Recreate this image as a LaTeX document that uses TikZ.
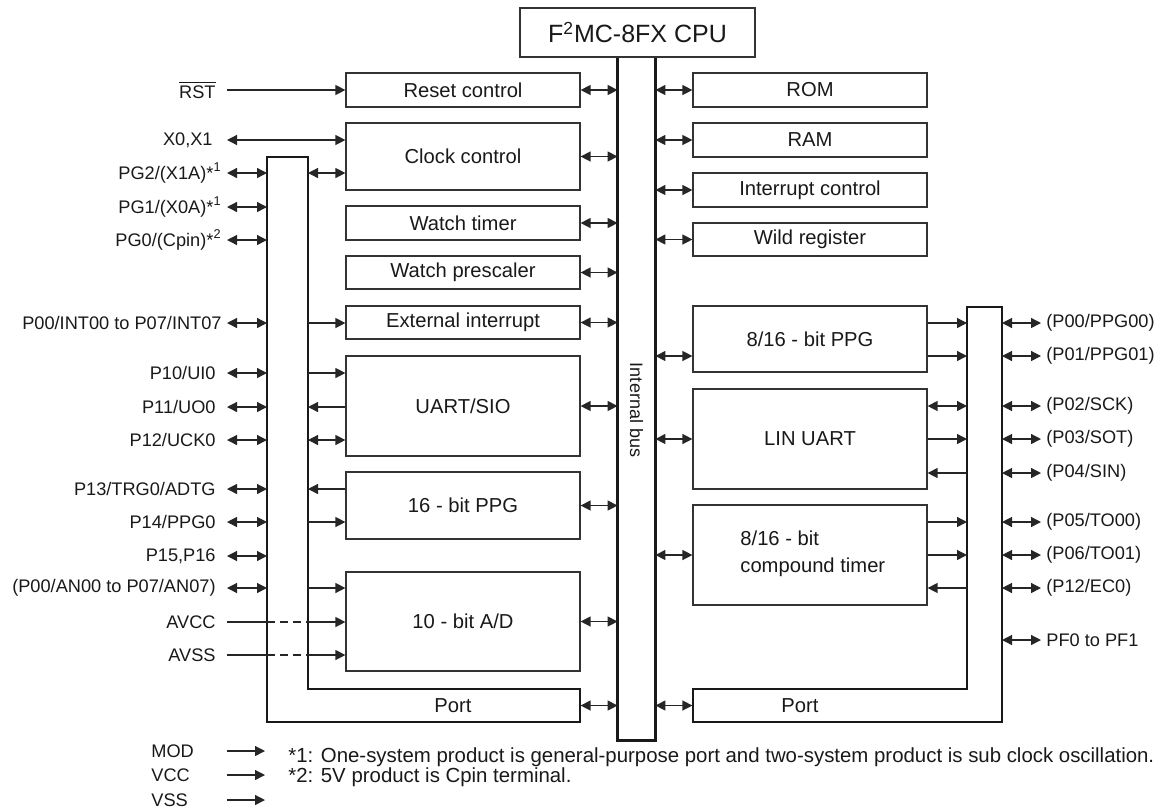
\documentclass[tikz,border=0pt]{standalone}
\usepackage{fontspec}
\setmainfont{Liberation Sans}
\usetikzlibrary{arrows.meta}

\begin{document}
\begin{tikzpicture}[x=0.5pt,y=-0.5pt,
  blk/.style={draw=black!80,line width=0.6pt,minimum width=117pt,inner sep=0pt,text=black!90,font=\fontsize{10.1}{12}\selectfont},
  pin/.style={inner xsep=5.5pt,inner ysep=0pt,text=black!90,font=\fontsize{9.1}{11}\selectfont},
  note/.style={inner sep=0pt,text=black!90,font=\fontsize{10.2}{12}\selectfont},
  lnk/.style={line width=0.65pt,draw=black!85,>={Triangle[length=5pt,width=5pt]}},
  frm/.style={line width=1.4pt,draw=black!90,line join=miter}]
\useasboundingbox (0,0) rectangle (1160,811);
\node[inner sep=0pt,minimum width=18.5pt,minimum height=341.5pt] (bus) at (636.5,398.5) {};
\draw[frm] (bus.north west) -- (bus.south west) -- (bus.south east) -- (bus.north east);
\node[blk,fill=white,minimum width=117.5pt,minimum height=24.5pt,font=\fontsize{12.5}{14}\selectfont] (cpu) at (637.5,32.5) {F\textsuperscript{2}MC-8FX CPU};
\node[rotate=-90,inner sep=0pt,text=black!90,font=\fontsize{9}{11}\selectfont] (buslbl) at (636.5,410) {Internal bus};
\coordinate (lfo) at (267,157);
\coordinate (lfi) at (308,157);
\coordinate (rfi) at (967,307);
\coordinate (rfo) at (1002,307);
\draw[frm] (267,157) -- (308,157) -- (308,689) -- (580,689) -- (580,722) -- (267,722) -- cycle;
\draw[frm] (967,307) -- (1002,307) -- (1002,722) -- (693,722) -- (693,689) -- (967,689) -- cycle;
\node[blk,minimum height=17pt] (reset) at (463,90) {Reset control};
\node[blk,minimum height=33.5pt] (clock) at (463,156.5) {Clock control};
\node[blk,minimum height=17pt] (wtimer) at (463,223) {Watch timer};
\node[blk,minimum height=16.5pt] (wpresc) at (463,272.5) {Watch prescaler};
\node[blk,minimum height=16.5pt] (extint) at (463,322.5) {External interrupt};
\node[blk,minimum height=50pt] (uart) at (463,406) {UART/SIO};
\node[blk,minimum height=33.5pt] (ppg16) at (463,505.5) {16 - bit PPG};
\node[blk,minimum height=49.5pt] (adc) at (463,621.5) {10 - bit A/D};
\node[blk,draw=none,minimum width=127pt,minimum height=16.5pt] (lport) at (453,705.5) {Port};
\node[blk,minimum height=17pt] (rom) at (810,90) {ROM};
\node[blk,minimum height=17pt] (ram) at (810,140) {RAM};
\node[blk,minimum height=17pt] (intc) at (810,190) {Interrupt control};
\node[blk,minimum height=16.5pt] (wild) at (810,239.5) {Wild register};
\node[blk,minimum height=33pt] (ppg816) at (810,339) {8/16 - bit PPG};
\node[blk,minimum height=50pt] (lin) at (810,439) {LIN UART};
\node[blk,minimum height=50pt] (ctimer) at (810,555) {};
\node[note,anchor=west,align=left,font=\fontsize{10.1}{13.5}\selectfont] (ctimerlbl) at (740,553.5) {8/16 - bit\\compound timer};
\node[blk,draw=none,minimum width=107pt,minimum height=16.5pt] (rport) at (800,705.5) {Port};
\node[pin,anchor=east] (rst) at (227,90) {$\overline{\mbox{RST}}$};
\node[pin,anchor=east,inner xsep=7pt] (xin) at (227,140) {X0,X1};
\node[pin,anchor=east,inner xsep=2.5pt] (pg2) at (227,173) {PG2/(X1A)*\textsuperscript{1}};
\node[pin,anchor=east,inner xsep=2.5pt] (pg1) at (227,207) {PG1/(X0A)*\textsuperscript{1}};
\node[pin,anchor=east,inner xsep=2.5pt] (pg0) at (227,240) {PG0/(Cpin)*\textsuperscript{2}};
\node[pin,anchor=east,inner xsep=2.5pt] (int) at (227,323) {P00/INT00 to P07/INT07};
\node[pin,anchor=east] (p10) at (227,373) {P10/UI0};
\node[pin,anchor=east] (p11) at (227,407) {P11/UO0};
\node[pin,anchor=east] (p12) at (227,440) {P12/UCK0};
\node[pin,anchor=east] (p13) at (227,489) {P13/TRG0/ADTG};
\node[pin,anchor=east] (p14) at (227,522) {P14/PPG0};
\node[pin,anchor=east] (p15) at (227,556) {P15,P16};
\node[pin,anchor=east] (an) at (227,588) {(P00/AN00 to P07/AN07)};
\node[pin,anchor=east] (avcc) at (227,622) {AVCC};
\node[pin,anchor=east] (avss) at (227,655) {AVSS};
\node[pin,anchor=west,inner xsep=2.5pt] (p00r) at (1041,323) {(P00/PPG00)};
\node[pin,anchor=west,inner xsep=2.5pt] (p01r) at (1041,356) {(P01/PPG01)};
\node[pin,anchor=west,inner xsep=2.5pt] (p02r) at (1041,406) {(P02/SCK)};
\node[pin,anchor=west,inner xsep=2.5pt] (p03r) at (1041,439) {(P03/SOT)};
\node[pin,anchor=west,inner xsep=2.5pt] (p04r) at (1041,473) {(P04/SIN)};
\node[pin,anchor=west,inner xsep=2.5pt] (p05r) at (1041,522) {(P05/TO00)};
\node[pin,anchor=west,inner xsep=2.5pt] (p06r) at (1041,555) {(P06/TO01)};
\node[pin,anchor=west,inner xsep=2.5pt] (p12r) at (1041,588) {(P12/EC0)};
\node[pin,anchor=west,inner xsep=2.5pt] (pfr) at (1041,640) {PF0 to PF1};
\node[pin,anchor=west,inner xsep=0pt,text width=37.5pt,align=left] (mod) at (151,751) {MOD};
\node[pin,anchor=west,inner xsep=0pt,text width=37.5pt,align=left] (vcc) at (151,775) {VCC};
\node[pin,anchor=west,inner xsep=0pt,text width=37.5pt,align=left] (vss) at (151,800) {VSS};
\coordinate (modend) at (265,751);
\coordinate (vccend) at (265,775);
\coordinate (vssend) at (265,800);
\node[note,anchor=west] (fn1) at (288,757) {*1: One-system product is general-purpose port and two-system product is sub clock oscillation.};
\node[note,anchor=west] (fn2) at (288,777) {*2: 5V product is Cpin terminal.};
\draw[lnk,<->] (reset.east) -- (reset.east -| bus.west);
\draw[lnk,<->] (clock.east) -- (clock.east -| bus.west);
\draw[lnk,<->] (wtimer.east) -- (wtimer.east -| bus.west);
\draw[lnk,<->] (wpresc.east) -- (wpresc.east -| bus.west);
\draw[lnk,<->] (extint.east) -- (extint.east -| bus.west);
\draw[lnk,<->] (uart.east) -- (uart.east -| bus.west);
\draw[lnk,<->] (ppg16.east) -- (ppg16.east -| bus.west);
\draw[lnk,<->] (adc.east) -- (adc.east -| bus.west);
\draw[lnk,<->] (lport.east) -- (lport.east -| bus.west);
\draw[lnk,<->] (rom.west) -- (rom.west -| bus.east);
\draw[lnk,<->] (ram.west) -- (ram.west -| bus.east);
\draw[lnk,<->] (intc.west) -- (intc.west -| bus.east);
\draw[lnk,<->] (wild.west) -- (wild.west -| bus.east);
\draw[lnk,<->] (p01r -| ppg816.west) -- (p01r -| bus.east);
\draw[lnk,<->] (lin.west) -- (lin.west -| bus.east);
\draw[lnk,<->] (ctimer.west) -- (ctimer.west -| bus.east);
\draw[lnk,<->] (rport.west) -- (rport.west -| bus.east);
\draw[lnk,->] (rst.east) -- (rst -| reset.west);
\draw[lnk,<->] (xin.east) -- (xin -| clock.west);
\draw[lnk,<->] (pg2.east) -- (pg2 -| lfo);
\draw[lnk,<->] (pg1.east) -- (pg1 -| lfo);
\draw[lnk,<->] (pg0.east) -- (pg0 -| lfo);
\draw[lnk,<->] (int.east) -- (int -| lfo);
\draw[lnk,<->] (p10.east) -- (p10 -| lfo);
\draw[lnk,<->] (p11.east) -- (p11 -| lfo);
\draw[lnk,<->] (p12.east) -- (p12 -| lfo);
\draw[lnk,<->] (p13.east) -- (p13 -| lfo);
\draw[lnk,<->] (p14.east) -- (p14 -| lfo);
\draw[lnk,<->] (p15.east) -- (p15 -| lfo);
\draw[lnk,<->] (an.east) -- (an -| lfo);
\draw[lnk] (avcc.east) -- (avcc -| lfo);
\draw[lnk,dash pattern=on 4pt off 2.5pt] (avcc -| lfo) -- (avcc -| lfi);
\draw[lnk,->] (avcc -| lfi) -- (avcc -| adc.west);
\draw[lnk] (avss.east) -- (avss -| lfo);
\draw[lnk,dash pattern=on 4pt off 2.5pt] (avss -| lfo) -- (avss -| lfi);
\draw[lnk,->] (avss -| lfi) -- (avss -| adc.west);
\draw[lnk,<->] (pg2 -| lfi) -- (pg2 -| clock.west);
\draw[lnk,->] (int -| lfi) -- (int -| extint.west);
\draw[lnk,->] (p10 -| lfi) -- (p10 -| uart.west);
\draw[lnk,->] (p11 -| uart.west) -- (p11 -| lfi);
\draw[lnk,<->] (p12 -| lfi) -- (p12 -| uart.west);
\draw[lnk,->] (p13 -| ppg16.west) -- (p13 -| lfi);
\draw[lnk,->] (p14 -| lfi) -- (p14 -| ppg16.west);
\draw[lnk,->] (an -| lfi) -- (an -| adc.west);
\draw[lnk,->] (p00r -| ppg816.east) -- (p00r -| rfi);
\draw[lnk,->] (p01r -| ppg816.east) -- (p01r -| rfi);
\draw[lnk,<->] (p02r -| lin.east) -- (p02r -| rfi);
\draw[lnk,->] (p03r -| lin.east) -- (p03r -| rfi);
\draw[lnk,->] (p04r -| rfi) -- (p04r -| lin.east);
\draw[lnk,->] (p05r -| ctimer.east) -- (p05r -| rfi);
\draw[lnk,->] (p06r -| ctimer.east) -- (p06r -| rfi);
\draw[lnk,->] (p12r -| rfi) -- (p12r -| ctimer.east);
\draw[lnk,<->] (p00r -| rfo) -- (p00r.west);
\draw[lnk,<->] (p01r -| rfo) -- (p01r.west);
\draw[lnk,<->] (p02r -| rfo) -- (p02r.west);
\draw[lnk,<->] (p03r -| rfo) -- (p03r.west);
\draw[lnk,<->] (p04r -| rfo) -- (p04r.west);
\draw[lnk,<->] (p05r -| rfo) -- (p05r.west);
\draw[lnk,<->] (p06r -| rfo) -- (p06r.west);
\draw[lnk,<->] (p12r -| rfo) -- (p12r.west);
\draw[lnk,<->] (pfr -| rfo) -- (pfr.west);
\draw[lnk,->] (mod.east) -- (modend);
\draw[lnk,->] (vcc.east) -- (vccend);
\draw[lnk,->] (vss.east) -- (vssend);
\end{tikzpicture}
\end{document}
